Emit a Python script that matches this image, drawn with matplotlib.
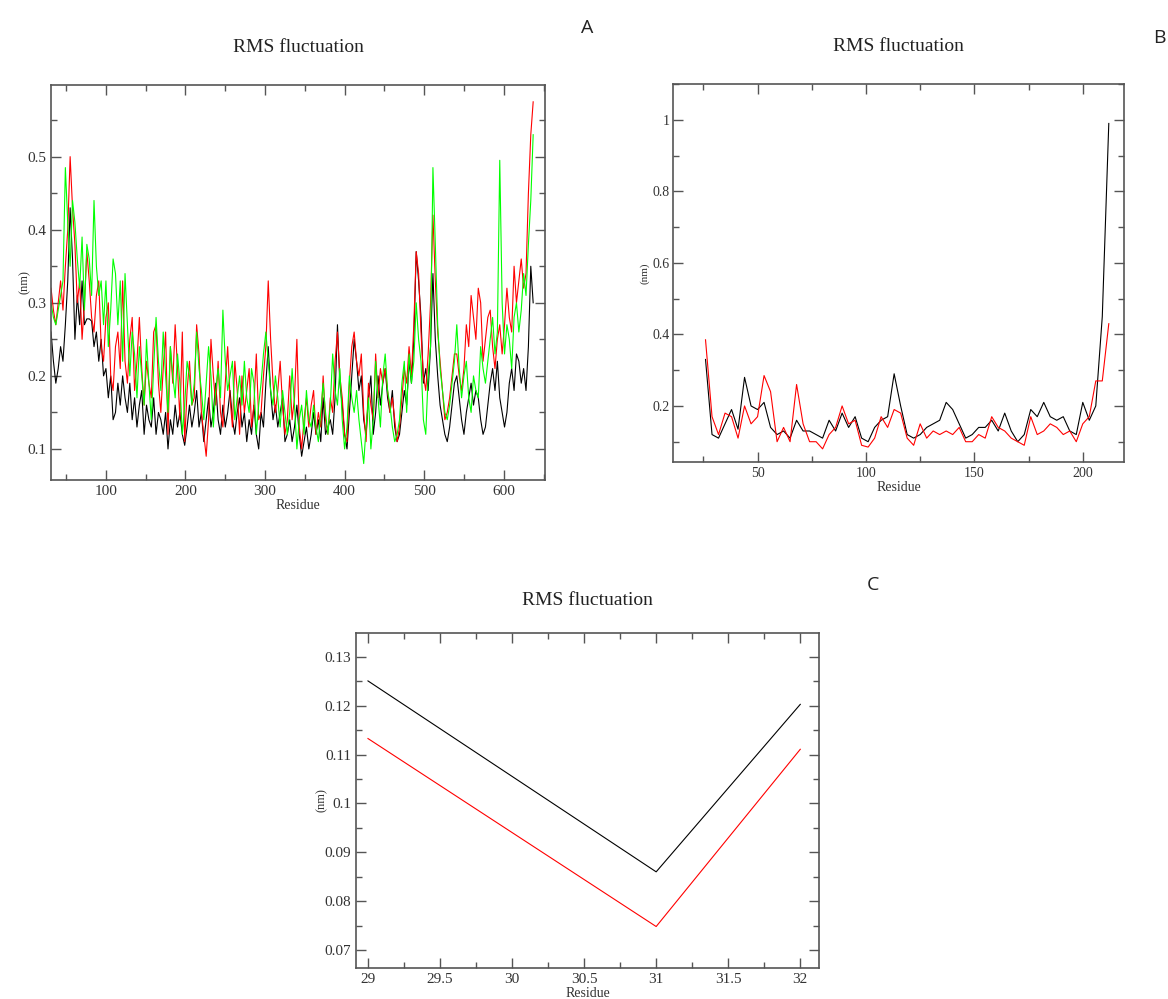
import numpy as np
import matplotlib
matplotlib.use("Agg")
import matplotlib.pyplot as plt
from matplotlib.ticker import MultipleLocator, FormatStrFormatter

# ---- panel A: RMSF, three runs, residues 31..637 every 3 ----
res_a = np.arange(31, 638, 3)
a_black = [
    0.26, 0.22, 0.19, 0.21, 0.24, 0.22, 0.27, 0.33, 0.43, 0.36,
    0.25, 0.31, 0.27, 0.33, 0.27, 0.278, 0.278, 0.275, 0.24, 0.26,
    0.22, 0.25, 0.20, 0.21, 0.17, 0.20, 0.14, 0.15, 0.19, 0.16,
    0.20, 0.17, 0.15, 0.19, 0.14, 0.17, 0.13, 0.16, 0.18, 0.12,
    0.16, 0.14, 0.13, 0.17, 0.12, 0.15, 0.14, 0.12, 0.15, 0.10,
    0.14, 0.12, 0.16, 0.13, 0.15, 0.12, 0.105, 0.13, 0.16, 0.13,
    0.15, 0.18, 0.13, 0.15, 0.11, 0.14, 0.17, 0.13, 0.15, 0.19,
    0.14, 0.12, 0.16, 0.13, 0.15, 0.18, 0.14, 0.12, 0.15, 0.17,
    0.13, 0.15, 0.11, 0.14, 0.12, 0.16, 0.12, 0.10, 0.15, 0.13,
    0.19, 0.24, 0.18, 0.14, 0.16, 0.13, 0.15, 0.17, 0.11, 0.12,
    0.14, 0.11, 0.13, 0.16, 0.12, 0.09, 0.11, 0.13, 0.10, 0.12,
    0.15, 0.12, 0.14, 0.11, 0.17, 0.12, 0.13, 0.14, 0.12, 0.17,
    0.27, 0.19, 0.16, 0.12, 0.10, 0.15, 0.20, 0.25, 0.22, 0.18,
    0.20, 0.14, 0.12, 0.17, 0.20, 0.12, 0.15, 0.20, 0.16, 0.19,
    0.21, 0.17, 0.15, 0.18, 0.13, 0.11, 0.12, 0.15, 0.18, 0.16,
    0.22, 0.19, 0.25, 0.37, 0.33, 0.28, 0.19, 0.21, 0.18, 0.24,
    0.34, 0.25, 0.20, 0.16, 0.14, 0.12, 0.11, 0.13, 0.16, 0.19,
    0.20, 0.17, 0.14, 0.12, 0.15, 0.17, 0.19, 0.16, 0.18, 0.17,
    0.14, 0.12, 0.13, 0.16, 0.19, 0.21, 0.18, 0.22, 0.17, 0.15,
    0.13, 0.15, 0.19, 0.21, 0.18, 0.23, 0.22, 0.19, 0.21, 0.18,
    0.24, 0.35, 0.30,
]
a_red = [
    0.32, 0.29, 0.27, 0.30, 0.33, 0.29, 0.35, 0.40, 0.50, 0.43,
    0.38, 0.30, 0.33, 0.25, 0.30, 0.37, 0.33, 0.28, 0.26, 0.31,
    0.33, 0.24, 0.22, 0.28, 0.30, 0.20, 0.18, 0.24, 0.26, 0.21,
    0.33, 0.22, 0.19, 0.25, 0.28, 0.18, 0.22, 0.28, 0.21, 0.16,
    0.22, 0.19, 0.17, 0.26, 0.27, 0.19, 0.15, 0.21, 0.26, 0.12,
    0.24, 0.19, 0.27, 0.21, 0.14, 0.26, 0.11, 0.18, 0.22, 0.16,
    0.17, 0.27, 0.23, 0.15, 0.12, 0.09, 0.14, 0.25, 0.20, 0.16,
    0.22, 0.15, 0.13, 0.19, 0.24, 0.17, 0.13, 0.22, 0.18, 0.12,
    0.20, 0.15, 0.18, 0.21, 0.13, 0.16, 0.23, 0.14, 0.15, 0.20,
    0.24, 0.33, 0.25, 0.19, 0.15, 0.18, 0.22, 0.16, 0.12, 0.14,
    0.20, 0.14, 0.17, 0.25, 0.13, 0.10, 0.14, 0.17, 0.13, 0.16,
    0.18, 0.12, 0.15, 0.13, 0.20, 0.14, 0.12, 0.17, 0.15, 0.22,
    0.26, 0.20, 0.17, 0.12, 0.11, 0.19, 0.24, 0.26, 0.22, 0.20,
    0.23, 0.15, 0.11, 0.19, 0.16, 0.14, 0.23, 0.17, 0.21, 0.19,
    0.21, 0.18, 0.15, 0.17, 0.14, 0.11, 0.13, 0.17, 0.21, 0.19,
    0.24, 0.20, 0.27, 0.37, 0.34, 0.26, 0.20, 0.18, 0.23, 0.30,
    0.42, 0.33, 0.26, 0.22, 0.18, 0.14, 0.15, 0.17, 0.20, 0.23,
    0.23, 0.20, 0.18, 0.21, 0.27, 0.24, 0.31, 0.28, 0.25, 0.32,
    0.30, 0.22, 0.25, 0.28, 0.29, 0.24, 0.21, 0.25, 0.27, 0.23,
    0.27, 0.32, 0.28, 0.26, 0.35, 0.30, 0.33, 0.36, 0.32, 0.34,
    0.45, 0.53, 0.575,
]
a_green = [
    0.30, 0.28, 0.27, 0.29, 0.31, 0.33, 0.485, 0.41, 0.35, 0.44,
    0.41, 0.36, 0.32, 0.39, 0.29, 0.38, 0.36, 0.31, 0.44, 0.35,
    0.31, 0.33, 0.27, 0.33, 0.24, 0.29, 0.36, 0.34, 0.27, 0.33,
    0.22, 0.34, 0.27, 0.20, 0.26, 0.23, 0.17, 0.24, 0.20, 0.16,
    0.25, 0.19, 0.14, 0.21, 0.28, 0.22, 0.18, 0.26, 0.20, 0.15,
    0.24, 0.20, 0.17, 0.23, 0.19, 0.12, 0.16, 0.22, 0.20, 0.16,
    0.19, 0.26, 0.21, 0.18, 0.14, 0.19, 0.24, 0.20, 0.13, 0.18,
    0.21, 0.17, 0.29, 0.22, 0.18, 0.20, 0.22, 0.14, 0.17, 0.20,
    0.16, 0.22, 0.17, 0.15, 0.21, 0.19, 0.12, 0.16, 0.19, 0.23,
    0.26, 0.22, 0.18, 0.16, 0.20, 0.17, 0.13, 0.18, 0.15, 0.12,
    0.15, 0.21, 0.16, 0.10, 0.14, 0.16, 0.12, 0.18, 0.14, 0.13,
    0.16, 0.13, 0.11, 0.15, 0.19, 0.15, 0.12, 0.16, 0.23, 0.18,
    0.16, 0.21, 0.14, 0.10, 0.13, 0.20, 0.17, 0.15, 0.18, 0.14,
    0.11, 0.08, 0.13, 0.17, 0.10, 0.14, 0.22, 0.17, 0.13, 0.20,
    0.23, 0.18, 0.16, 0.13, 0.11, 0.12, 0.14, 0.19, 0.22, 0.15,
    0.23, 0.19, 0.22, 0.30, 0.25, 0.22, 0.14, 0.12, 0.20, 0.24,
    0.485, 0.38, 0.27, 0.21, 0.18, 0.15, 0.14, 0.16, 0.19, 0.22,
    0.27, 0.21, 0.17, 0.20, 0.22, 0.17, 0.15, 0.20, 0.18, 0.17,
    0.24, 0.21, 0.19, 0.22, 0.25, 0.28, 0.23, 0.26, 0.495, 0.30,
    0.23, 0.27, 0.25, 0.21, 0.28, 0.30, 0.26, 0.29, 0.34, 0.31,
    0.38, 0.44, 0.53,
]

# ---- panel B: residues 26..212 every 3 ----
res_b = np.arange(26, 213, 3)
b_black = [
    0.33, 0.12, 0.11, 0.15, 0.19, 0.135, 0.28, 0.20, 0.19, 0.21,
    0.14, 0.12, 0.13, 0.11, 0.16, 0.13, 0.13, 0.12, 0.11, 0.16,
    0.13, 0.18, 0.14, 0.17, 0.11, 0.10, 0.14, 0.16, 0.17, 0.29,
    0.20, 0.12, 0.11, 0.12, 0.14, 0.15, 0.16, 0.21, 0.19, 0.15,
    0.11, 0.12, 0.14, 0.14, 0.16, 0.13, 0.18, 0.13, 0.10, 0.12,
    0.19, 0.17, 0.21, 0.17, 0.16, 0.17, 0.13, 0.12, 0.21, 0.16,
    0.20, 0.45, 0.99,
]
b_red = [
    0.385, 0.17, 0.12, 0.18, 0.17, 0.11, 0.20, 0.15, 0.17, 0.285,
    0.24, 0.10, 0.14, 0.10, 0.26, 0.15, 0.10, 0.10, 0.08, 0.12,
    0.14, 0.20, 0.15, 0.16, 0.09, 0.085, 0.11, 0.17, 0.14, 0.19,
    0.18, 0.11, 0.09, 0.15, 0.11, 0.13, 0.12, 0.13, 0.12, 0.14,
    0.10, 0.10, 0.12, 0.11, 0.17, 0.14, 0.13, 0.11, 0.10, 0.09,
    0.17, 0.12, 0.13, 0.15, 0.14, 0.12, 0.13, 0.10, 0.15, 0.17,
    0.27, 0.27, 0.43,
]

# ---- panel C ----
res_c = [29, 31, 32]
c_black = [0.1251, 0.0860, 0.1203]
c_red = [0.1133, 0.0748, 0.1111]

plt.rcParams["font.family"] = "Liberation Serif"
spine_col = "#555555"


def style_axes(ax, xmaj, xmin, ymaj, ymin, yfmt=None, title_pad=24,
               ylab_x=-0.05, tick_size=11, ylab_size=9, ypad=3.5):
    ax.xaxis.set_major_locator(MultipleLocator(xmaj))
    ax.xaxis.set_minor_locator(MultipleLocator(xmin))
    ax.yaxis.set_major_locator(MultipleLocator(ymaj))
    ax.yaxis.set_minor_locator(MultipleLocator(ymin))
    if yfmt:
        ax.yaxis.set_major_formatter(FormatStrFormatter(yfmt))
    ax.tick_params(which="both", direction="in", top=True, right=True,
                   colors=spine_col, labelcolor="#333333", labelsize=tick_size)
    ax.tick_params(axis="y", pad=ypad)
    ax.tick_params(which="major", length=7, width=1)
    ax.tick_params(which="minor", length=4, width=1)
    for s in ax.spines.values():
        s.set_color(spine_col)
        s.set_linewidth(1.2)
    ax.set_xlabel("Residue", fontsize=10, color="#333333", labelpad=1)
    ax.set_ylabel("(nm)", fontsize=ylab_size, color="#333333")
    ax.yaxis.set_label_coords(ylab_x, 0.5)
    ax.set_title("RMS fluctuation", fontsize=14, color="#222222", pad=title_pad)


fig = plt.figure(figsize=(11.68, 9.99), dpi=100)

axA = fig.add_axes([0.0437, 0.5195, 0.423, 0.3954])
axA.plot(res_a, a_black, color="black", lw=0.8)
axA.plot(res_a, a_red, color="red", lw=0.8)
axA.plot(res_a, a_green, color="#00ff00", lw=0.8)
axA.set_xlim(31, 652)
axA.set_ylim(0.0575, 0.598)
style_axes(axA, 100, 50, 0.1, 0.05, title_pad=24, ylab_x=-0.040)

axB = fig.add_axes([0.5762, 0.5378, 0.3861, 0.378])
axB.plot(res_b, b_black, color="black", lw=0.8)
axB.plot(res_b, b_red, color="red", lw=0.8)
axB.set_xlim(11, 219)
axB.set_ylim(0.044, 1.1)
style_axes(axB, 50, 25, 0.2, 0.1, "%g", title_pad=24, ylab_x=-0.052,
           tick_size=10, ylab_size=8, ypad=2.5)

axC = fig.add_axes([0.3048, 0.031, 0.3964, 0.3353])
axC.plot(res_c, c_black, color="black", lw=0.8)
axC.plot(res_c, c_red, color="red", lw=0.8)
axC.set_xlim(28.917, 32.13)
axC.set_ylim(0.0663, 0.1349)
style_axes(axC, 0.5, 0.25, 0.01, 0.005, "%g", title_pad=20, ylab_x=-0.060)
axC.set_xticks([29, 29.5, 30, 30.5, 31, 31.5, 32])
axC.set_xticklabels(["29", "29.5", "30", "30.5", "31", "31.5", "32"])

for label, x, y in [("A", 0.503, 0.972), ("B", 0.993, 0.962), ("C", 0.747, 0.414)]:
    fig.text(x, y, label, fontsize=14, family="Open Sans", color="#222222",
             ha="center", va="center")

fig.savefig("out.png", dpi=100)
